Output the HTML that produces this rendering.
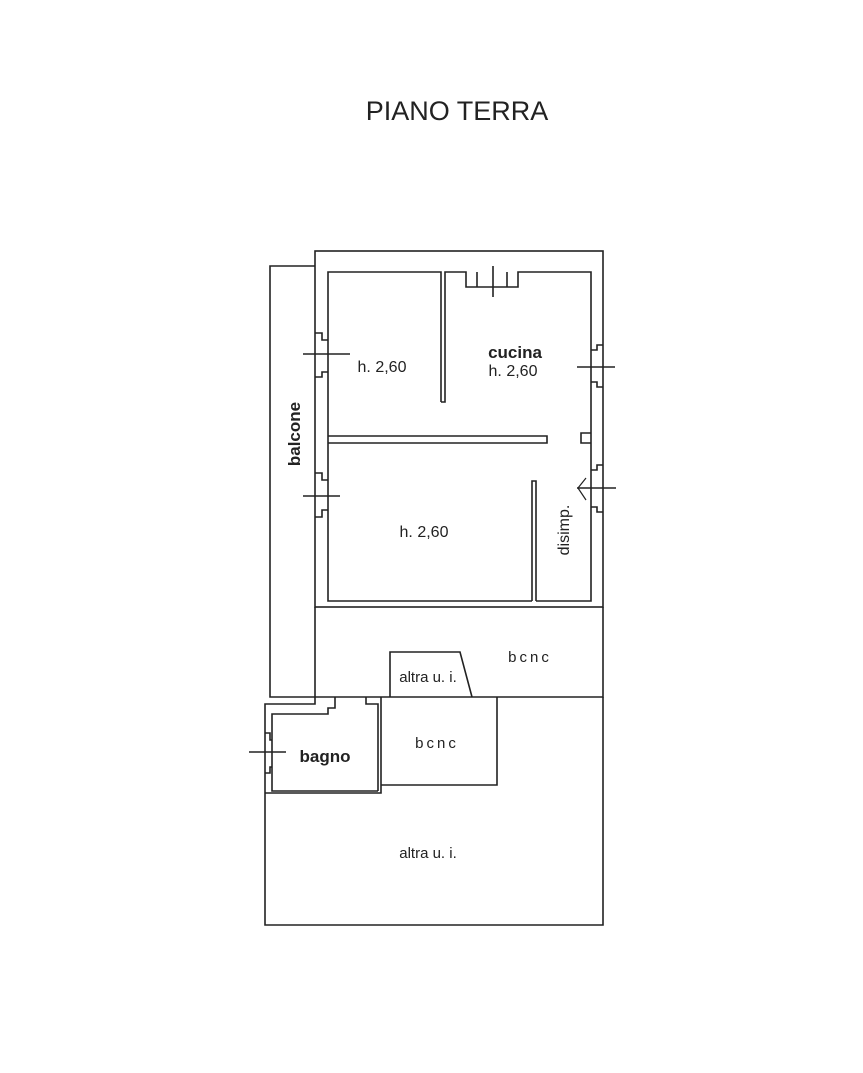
<!DOCTYPE html>
<html><head><style>
body{margin:0;background:#fff;width:863px;height:1073px;overflow:hidden}
svg{position:absolute;left:0;top:0}
text{font-family:"Liberation Sans",sans-serif;fill:#222}
</style></head><body>
<svg width="863" height="1073" viewBox="0 0 863 1073" fill="none" stroke="#222" stroke-width="1.6">
<text x="457" y="120" font-size="27" text-anchor="middle" stroke="none">PIANO TERRA</text>
<!-- outer building -->
<rect x="315" y="251" width="288" height="356"/>
<!-- inner walls -->
<path d="M441 402 V272 H328 V601 H532"/>
<path d="M536 601 H591 V272 H518 V287 H466 V272 H445 V402 H441"/>
<line x1="477" y1="272" x2="477" y2="287"/>
<line x1="507" y1="272" x2="507" y2="287"/>
<path d="M328 436 H547 V443 H328"/>
<path d="M532 601 V481 H536 V601"/>
<!-- windows -->
<path d="M315 333 H322 V340 H328 M315 377 H322 V372 H328"/>
<line x1="303" y1="354" x2="350" y2="354"/>
<path d="M315 473 H322 V480 H328 M315 517 H322 V510 H328"/>
<line x1="303" y1="496" x2="340" y2="496"/>
<path d="M603 345 H597 V350 H591 M603 387 H597 V382 H591"/>
<line x1="577" y1="367" x2="615" y2="367"/>
<path d="M603 465 H597 V470 H591 M603 512 H597 V507 H591"/>
<line x1="577" y1="488" x2="616" y2="488"/>
<path d="M578 488 L586 478 M578 488 L586 500" stroke-width="1.2"/>
<path d="M591 433 H581 V443 H591" />
<line x1="493" y1="266" x2="493" y2="297"/>
<!-- balcone -->
<path d="M315 266 H270 V697 H315"/>
<!-- bcnc band -->
<path d="M315 607 V697 H603 V607"/>
<path d="M390 697 V652 H460 L472 697"/>
<!-- bagno -->
<path d="M265 793 V704 H315 V697 M381 697 V793 H265"/>
<path d="M378 791 H272 V714 H328 V708 H335 V697 M366 697 V704 H378 V791"/>
<path d="M265 733 H270 V740 H272 M265 773 H270 V767 H272"/>
<line x1="249" y1="752" x2="286" y2="752"/>
<!-- bcnc box -->
<path d="M381 785 H497 V697"/>
<!-- big altra -->
<path d="M265 793 V925 H603 V697"/>
<g stroke="none">
<text x="382" y="372" font-size="16" text-anchor="middle">h. 2,60</text>
<text x="515" y="358" font-size="17" font-weight="bold" text-anchor="middle">cucina</text>
<text x="513" y="376" font-size="16" text-anchor="middle">h. 2,60</text>
<text x="424" y="537" font-size="16" text-anchor="middle">h. 2,60</text>
<text transform="translate(300,434) rotate(-90)" font-size="17" font-weight="bold" text-anchor="middle">balcone</text>
<text transform="translate(569,530) rotate(-90)" font-size="16" text-anchor="middle">disimp.</text>
<text x="530" y="662" font-size="15" text-anchor="middle" letter-spacing="3">bcnc</text>
<text x="428" y="682" font-size="15" text-anchor="middle">altra u. i.</text>
<text x="437" y="748" font-size="15" text-anchor="middle" letter-spacing="3">bcnc</text>
<text x="325" y="762" font-size="17" font-weight="bold" text-anchor="middle">bagno</text>
<text x="428" y="858" font-size="15" text-anchor="middle">altra u. i.</text>
</g>
</svg>
</body></html>
